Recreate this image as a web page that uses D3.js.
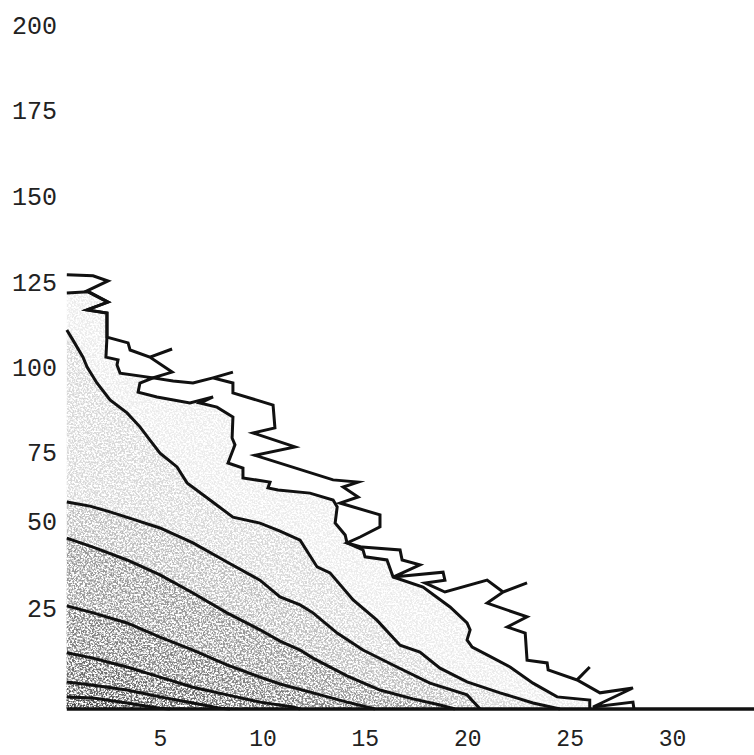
<!DOCTYPE html>
<html>
<head>
<meta charset="utf-8">
<script src="https://cdn.jsdelivr.net/npm/d3@7"></script>
<style>
  html, body { margin: 0; padding: 0; background: #fff; }
  svg { display: block; }
</style>
</head>
<body>
<svg id="chart" width="754" height="755"></svg>
<script>
// Tick labels
const xTickValues = [5, 10, 15, 20, 25, 30];
const yTickValues = [25, 50, 75, 100, 125, 150, 175, 200];

// Upper jagged envelope
const xA = [0.45, 1.73, 2.46, 1.44, 2.46, 1.44, 2.41, 2.41, 3.44, 3.54, 4.51, 5.59, 4.51, 5.59, 4.66, 5.64, 6.61, 7.59, 8.56, 7.59, 8.56, 8.56, 10.52, 10.61, 9.54, 11.59, 9.64, 13.45, 14.67, 13.94, 14.67, 13.79, 15.74, 15.74, 14.77, 14.13, 14.86, 16.72, 16.82, 17.69, 16.38, 18.82, 18.91, 17.94, 18.91, 20.97, 21.75, 22.92, 21.75, 20.97, 22.92, 21.95, 22.83, 22.92, 23.90, 23.95, 25.36, 25.98, 25.36, 26.48, 28.09, 26.14, 28.09, 28.14];
const yA = [127.1, 126.8, 125.3, 122.4, 119.1, 116.8, 115.9, 108.8, 107.1, 105.0, 102.9, 105.3, 102.9, 98.5, 96.8, 95.9, 95.3, 96.8, 98.5, 96.8, 95.3, 92.4, 88.8, 82.1, 80.6, 76.5, 73.8, 64.9, 64.1, 62.3, 58.7, 56.5, 52.2, 48.3, 45.4, 43.7, 42.5, 41.7, 38.8, 37.4, 33.9, 35.3, 33.0, 32.2, 29.6, 33.0, 29.6, 32.2, 29.6, 26.4, 22.8, 20.3, 18.8, 12.1, 11.4, 9.7, 7.2, 10.4, 7.2, 4.0, 5.2, 0.5, 1.7, 0];

// Lower jagged envelope
const xB = [0.45, 1.48, 2.46, 1.44, 2.41, 2.41, 2.36, 2.95, 2.90, 3.05, 4.66, 4.02, 3.93, 4.85, 6.46, 7.59, 6.95, 7.78, 8.56, 8.52, 8.66, 8.32, 9.05, 9.05, 10.37, 10.27, 10.76, 12.32, 13.45, 13.65, 13.55, 14.04, 14.13, 14.91, 15.01, 16.08, 16.38, 17.84, 19.16, 19.99, 20.14, 19.99, 20.24, 20.97, 22.09, 23.21, 24.39, 25.98, 25.98];
const yB = [121.8, 122.1, 119.1, 116.8, 115.9, 108.8, 102.9, 102.1, 100.6, 98.2, 96.8, 95.3, 92.6, 91.2, 89.4, 91.2, 89.4, 88.2, 85.3, 79.1, 77.1, 71.0, 69.2, 65.6, 64.1, 62.0, 61.2, 60.1, 57.6, 55.1, 49.4, 46.0, 43.7, 41.7, 39.7, 38.8, 33.9, 31.0, 25.3, 21.3, 19.6, 17.1, 15.3, 13.4, 10.4, 6.4, 3.0, 2.2, 0.2];

// Smooth contours, from the highest to the lowest
const xC = [0.45, 0.75, 1.24, 1.44, 1.92, 2.56, 3.39, 4.02, 4.51, 5.00, 5.83, 6.32, 7.44, 8.56, 9.88, 10.86, 11.84, 12.67, 13.30, 14.43, 15.59, 16.72, 17.69, 18.67, 19.99, 21.60, 23.21, 24.53];
const yC = [110.9, 107.9, 102.9, 100.0, 95.3, 90.3, 86.5, 82.4, 78.5, 74.6, 69.6, 63.8, 57.6, 51.4, 49.4, 47.1, 44.5, 36.8, 35.1, 27.3, 22.0, 15.8, 14.1, 10.1, 6.7, 4.0, 1.5, 0];

const xD = [0.45, 1.58, 2.56, 3.78, 5.00, 6.61, 8.27, 9.88, 10.86, 11.84, 12.47, 13.65, 14.91, 16.57, 18.18, 19.99, 20.63];
const yD = [56.9, 55.4, 53.3, 50.4, 48.0, 43.7, 38.2, 33.0, 28.2, 25.9, 23.8, 18.8, 14.6, 10.4, 6.4, 3.5, 0];

const xE = [0.45, 1.73, 3.39, 5.00, 6.61, 8.27, 9.88, 10.86, 11.84, 12.47, 14.13, 15.74, 17.35, 18.67, 19.40];
const yE = [45.1, 42.5, 38.8, 34.5, 29.3, 23.8, 19.6, 16.8, 14.6, 12.6, 8.2, 4.7, 2.5, 1.0, 0];

const xF = [0.45, 1.73, 3.39, 5.00, 6.61, 8.27, 9.88, 10.86, 12.47, 14.13, 15.50];
const yF = [25.6, 23.8, 21.3, 17.8, 14.6, 10.9, 7.9, 6.2, 4.0, 1.7, 0];

const xG = [0.45, 1.73, 3.39, 5.00, 6.61, 8.27, 9.88, 11.49, 11.84];
const yG = [13.9, 12.6, 10.4, 7.9, 5.4, 3.5, 1.7, 0.5, 0];

const xH = [0.45, 1.73, 3.39, 5.00, 6.61, 7.93, 8.42];
const yH = [6.7, 5.9, 4.7, 3.0, 1.5, 0.2, 0];

const xI = [0.45, 1.73, 3.39, 5.00, 5.49];
const yI = [3.0, 2.7, 1.5, 0.2, 0];

const svg = d3.select("#chart");

const x = d3.scaleLinear().domain([0, 34]).range([57.6, 754]);
const y = d3.scaleLinear()
  .domain([0, 25, 50, 75, 100, 125, 150, 175, 200])
  .range([709, 608, 521, 452, 367, 282, 196, 110, 25]);

// Stipple texture: speckles each shaded band in proportion to its grey level
const defs = svg.append("defs");
const grain = defs.append("filter")
  .attr("id", "grain")
  .attr("filterUnits", "userSpaceOnUse")
  .attr("x", 0).attr("y", 0).attr("width", 754).attr("height", 755)
  .attr("color-interpolation-filters", "sRGB");
grain.append("feTurbulence")
  .attr("type", "fractalNoise").attr("baseFrequency", 0.55)
  .attr("numOctaves", 2).attr("seed", 7).attr("result", "t");
grain.append("feColorMatrix")
  .attr("in", "t").attr("type", "matrix")
  .attr("values", "1 0 0 0 0  1 0 0 0 0  1 0 0 0 0  0 0 0 0 1")
  .attr("result", "g");
const ct = grain.append("feComponentTransfer").attr("in", "g").attr("result", "n");
["feFuncR", "feFuncG", "feFuncB"].forEach(f =>
  ct.append(f).attr("type", "linear").attr("slope", 4.5).attr("intercept", -1.75));
grain.append("feComposite")
  .attr("in", "SourceGraphic").attr("in2", "n")
  .attr("operator", "arithmetic")
  .attr("k1", 2).attr("k2", 0).attr("k3", -2).attr("k4", 1);

const bands = [
  { xs: xA, ys: yA, fill: "#ffffff" },
  { xs: xB, ys: yB, fill: "#f5f5f5" },
  { xs: xC, ys: yC, fill: "#ebebeb" },
  { xs: xD, ys: yD, fill: "#dedede" },
  { xs: xE, ys: yE, fill: "#cccccc" },
  { xs: xF, ys: yF, fill: "#c0c0c0" },
  { xs: xG, ys: yG, fill: "#b6b6b6" },
  { xs: xH, ys: yH, fill: "#aeaeae" },
  { xs: xI, ys: yI, fill: "#a4a4a4" }
];
const points = b => b.xs.map((v, i) => [v, b.ys[i]]);
const line = d3.line().x(d => x(d[0])).y(d => y(d[1]));
const areaPath = pts => line([...pts, [pts[pts.length - 1][0], 0], [pts[0][0], 0]]) + "Z";

const shade = svg.append("g").attr("filter", "url(#grain)");
shade.append("rect")
  .attr("x", 0).attr("y", 0).attr("width", 754).attr("height", 755)
  .attr("fill", "#fff");
shade.selectAll("path.band")
  .data(bands)
  .join("path")
  .attr("class", "band")
  .attr("d", b => areaPath(points(b)))
  .attr("fill", b => b.fill);

// Contour lines
svg.append("g")
  .selectAll("path.contour")
  .data(bands)
  .join("path")
  .attr("class", "contour")
  .attr("d", b => line(points(b)))
  .attr("fill", "none")
  .attr("stroke", "#111")
  .attr("stroke-width", 3)
  .attr("stroke-linejoin", "miter")
  .attr("stroke-miterlimit", 6);

// Base line
svg.append("line")
  .attr("x1", x(0.45)).attr("x2", x(34))
  .attr("y1", y(0)).attr("y2", y(0))
  .attr("stroke", "#111")
  .attr("stroke-width", 3.4);

const font = "'Liberation Mono', 'DejaVu Sans Mono', monospace";

// Axes: labels only
const yAxis = svg.append("g")
  .attr("transform", "translate(57,0)")
  .call(d3.axisLeft(y).tickValues(yTickValues).tickSize(0).tickPadding(0));
yAxis.select(".domain").remove();
yAxis.selectAll("text")
  .attr("font-family", font).attr("font-size", 25).attr("fill", "#222");

const xAxis = svg.append("g")
  .attr("transform", `translate(0,${y(0)})`)
  .call(d3.axisBottom(x).tickValues(xTickValues).tickSize(0).tickPadding(21));
xAxis.select(".domain").remove();
xAxis.selectAll("text")
  .attr("font-family", font).attr("font-size", 23).attr("fill", "#222");
</script>
</body>
</html>
